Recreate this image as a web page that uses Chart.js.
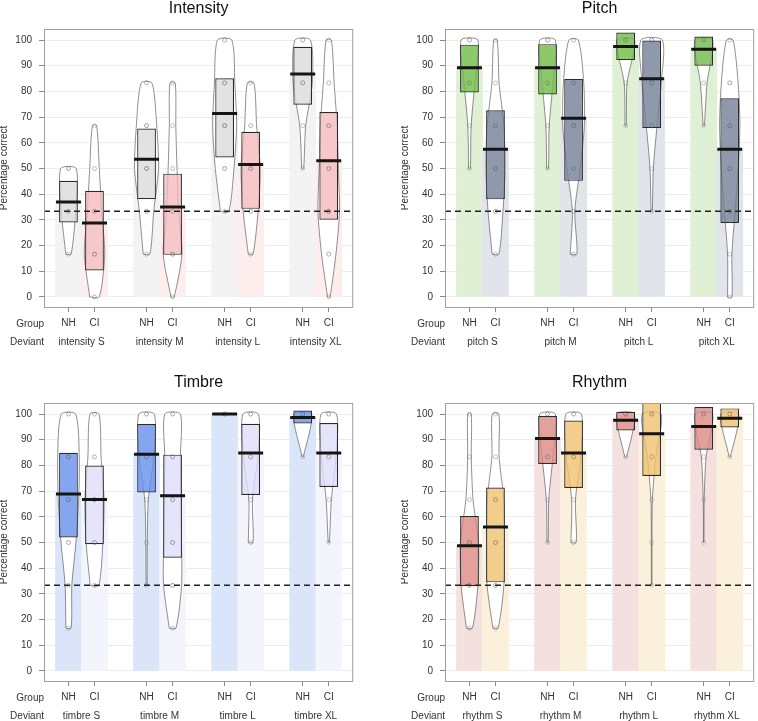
<!DOCTYPE html>
<html>
<head>
<meta charset="utf-8">
<script src="https://cdn.jsdelivr.net/npm/chart.js@4/dist/chart.umd.min.js"></script>
<style>
  html, body { margin: 0; padding: 0; background: #fff; overflow: hidden; }
  canvas { position: absolute; }
</style>
</head>
<body>
<canvas id="intensity" width="358" height="374" style="left:0;top:0"></canvas>
<canvas id="pitch" width="358" height="374" style="left:401px;top:0"></canvas>
<canvas id="timbre" width="358" height="374" style="left:0;top:374px"></canvas>
<canvas id="rhythm" width="358" height="374" style="left:401px;top:374px"></canvas>
<script>
// response levels (6 trials per condition)
const levels = [0, 16.67, 33.33, 50, 66.67, 83.33, 100];
const groupLabels = ['NH', 'CI'];
const deviantSizes = ['S', 'M', 'L', 'XL'];
const yTicks = [0, 10, 20, 30, 40, 50, 60, 70, 80, 90, 100];
const chanceLevel = 33.33;

// every array below is ordered: NH S, CI S, NH M, CI M, NH L, CI L, NH XL, CI XL
const intensityMean = [37.0, 28.8, 53.6, 35.0, 71.4, 51.6, 86.8, 53.0];
const intensityLow = [29.0, 10.3, 38.1, 16.4, 54.3, 34.3, 74.8, 30.1];
const intensityHigh = [45.2, 41.3, 65.6, 48.0, 85.1, 64.3, 97.4, 72.0];
// relative bean density at each level (null = outside the data range)
const intensityDensity = [
  [null, 0.22, 0.6, 0.65, null, null, null],
  [0.4, 0.85, 0.6, 0.4, 0.18, null, null],
  [null, 0.28, 0.6, 1.0, 0.85, 0.45, null],
  [0.13, 0.78, 0.5, 0.37, 0.27, 0.22, null],
  [null, null, 0.35, 0.78, 1.0, 0.85, 0.6],
  [null, 0.2, 0.62, 0.8, 0.5, 0.28, null],
  [null, null, null, 0.08, 0.25, 0.8, 0.65],
  [0.1, 0.6, 0.9, 0.8, 0.7, 0.45, 0.22]
];

const pitchMean = [89.2, 57.5, 89.2, 69.6, 97.5, 84.9, 96.4, 57.5];
const pitchLow = [79.6, 38.0, 78.8, 45.2, 92.2, 65.8, 90.0, 28.8];
const pitchHigh = [98.2, 72.7, 98.4, 84.8, 102.9, 99.8, 101.4, 77.3];
const pitchDensity = [
  [null, null, null, 0.07, 0.14, 0.45, 0.7],
  [null, 0.28, 0.62, 0.8, 0.7, 0.3, 0.15],
  [null, null, null, 0.07, 0.14, 0.45, 0.65],
  [null, 0.28, 0.1, 0.55, 0.9, 0.85, 0.4],
  [null, null, null, null, 0.05, 0.12, 0.75],
  [null, null, 0.05, 0.14, 0.45, 0.8, 0.9],
  [null, null, null, null, 0.05, 0.28, 0.75],
  [0.18, 0.18, 0.45, 0.7, 0.85, 0.7, 0.28]
];

const timbreMean = [68.9, 66.7, 84.4, 68.2, 100, 84.8, 98.7, 84.8];
const timbreLow = [52.0, 49.3, 69.5, 44.1, 100, 68.5, 96.3, 71.6];
const timbreHigh = [84.9, 80.0, 96.1, 84.2, 100, 96.2, 101.4, 96.5];
const timbreDensity = [
  [null, 0.22, 0.28, 0.62, 0.85, 0.9, 0.6],
  [null, null, 0.36, 0.7, 0.8, 0.55, 0.38],
  [null, null, 0.04, 0.06, 0.15, 0.6, 0.65],
  [null, 0.28, 0.75, 0.75, 0.7, 0.65, 0.65],
  [null, null, null, null, null, null, 0.9],
  [null, null, null, 0.2, 0.15, 0.6, 0.65],
  [null, null, null, null, null, 0.05, 0.75],
  [null, null, null, 0.05, 0.22, 0.6, 0.65]
];

const rhythmMean = [48.7, 56.0, 90.5, 84.8, 97.6, 92.3, 95.2, 98.4];
const rhythmLow = [33.0, 34.5, 80.6, 71.2, 93.6, 75.9, 86.1, 94.8];
const rhythmHigh = [60.3, 71.4, 99.2, 97.5, 100.9, 104.5, 102.7, 102.2];
const rhythmDensity = [
  [null, 0.25, 0.7, 0.75, 0.3, 0.15, 0.15],
  [null, 0.22, 0.7, 0.75, 0.7, 0.3, 0.28],
  [null, null, null, 0.05, 0.1, 0.45, 0.65],
  [null, null, null, 0.22, 0.16, 0.6, 0.65],
  [null, null, null, null, null, 0.08, 0.75],
  [null, null, 0.02, 0.03, 0.06, 0.35, 0.8],
  [null, null, null, 0.02, 0.04, 0.2, 0.75],
  [null, null, null, null, null, 0.05, 0.75]
];

// colours: [NH, CI]
const palettes = {
  intensity: { bar: ['#f3f3f3', '#fdeded'], box: ['rgba(219,219,219,0.8)', 'rgba(244,186,188,0.8)'] },
  pitch: { bar: ['#dff0d5', '#e1e4ea'], box: ['rgba(113,188,70,0.8)', 'rgba(114,129,150,0.8)'] },
  timbre: { bar: ['#dbe5f9', '#f4f4fd'], box: ['rgba(101,144,234,0.8)', 'rgba(224,221,250,0.8)'] },
  rhythm: { bar: ['#f5e0e0', '#fbf0dc'], box: ['rgba(221,136,130,0.8)', 'rgba(239,193,110,0.8)'] }
};

Chart.defaults.font.family = '"Liberation Sans", Arial, sans-serif';
Chart.defaults.font.size = 10;
Chart.defaults.color = '#333';

const X_MIN = 0.06, X_MAX = 11.94;
const BEAN_HALF = 0.46;
const MEAN_HALF = 0.48;

// x position of bean i: pairs at 1,2 / 4,5 / 7,8 / 10,11
const pos = i => Math.floor(i / 2) * 3 + 1 + (i % 2);

const pirateFrame = {
  id: 'pirateFrame',
  afterDraw(chart, args, opts) {
    const { ctx, chartArea: a, scales } = chart;
    ctx.save();
    ctx.strokeStyle = '#a0a0a0';
    ctx.lineWidth = 1;
    ctx.strokeRect(a.left + 0.5, a.top + 0.5, a.right - a.left - 1, a.bottom - a.top);
    ctx.fillStyle = '#111';
    ctx.font = '16px "Liberation Sans", Arial, sans-serif';
    ctx.textAlign = 'center';
    ctx.textBaseline = 'alphabetic';
    ctx.fillText(opts.title, (a.left + a.right) / 2, a.top - 16);
    ctx.fillStyle = '#333';
    ctx.font = '10px "Liberation Sans", Arial, sans-serif';
    ctx.textBaseline = 'middle';
    ctx.textAlign = 'right';
    ctx.fillText('Group', a.left, a.bottom + 17);
    ctx.fillText('Deviant', a.left, a.bottom + 35);
    ctx.textAlign = 'center';
    deviantSizes.forEach((s, k) => {
      const xm = scales.x.getPixelForValue((pos(2 * k) + pos(2 * k + 1)) / 2);
      ctx.fillText(opts.deviant + ' ' + s, xm, a.bottom + 35);
    });
    ctx.restore();
  }
};

function makePirate(id, title, deviant, mean, low, high, density, pal) {
  const datasets = [];

  datasets.push({
    type: 'bar',
    data: mean.map((m, i) => ({ x: pos(i), y: m })),
    backgroundColor: mean.map((m, i) => pal.bar[i % 2]),
    borderWidth: 0,
    grouped: false,
    barPercentage: 1,
    categoryPercentage: 1,
    order: 6
  });

  density.forEach((d, i) => {
    const c = pos(i);
    const left = [], right = [];
    d.forEach((v, k) => {
      if (v === null) return;
      left.push({ x: c - v * BEAN_HALF, y: levels[k] });
      right.unshift({ x: c + v * BEAN_HALF, y: levels[k] });
    });
    const shape = left.concat(right, [left[0]]);
    datasets.push({
      type: 'line',
      data: shape,
      fill: 'shape',
      backgroundColor: '#ffffff',
      borderColor: 'rgba(70,70,70,0.75)',
      borderWidth: 0.8,
      pointRadius: 0,
      tension: 0.25,
      order: 5
    });
  });

  datasets.push({
    type: 'bar',
    data: mean.map((m, i) => ({ x: pos(i), y: [low[i], high[i]] })),
    backgroundColor: mean.map((m, i) => pal.box[i % 2]),
    borderColor: '#2a2a2a',
    borderWidth: 1.2,
    borderSkipped: false,
    grouped: false,
    barPercentage: 0.72,
    categoryPercentage: 1,
    order: 4
  });

  const pts = [], ptColors = [];
  density.forEach((d, i) => {
    d.forEach((v, k) => {
      if (v === null) return;
      pts.push({ x: pos(i), y: levels[k] });
      ptColors.push('rgba(90,90,90,' + (0.3 + 0.5 * v).toFixed(2) + ')');
    });
  });
  datasets.push({
    type: 'scatter',
    data: pts,
    pointRadius: 2,
    pointBorderWidth: 0.8,
    pointBorderColor: ptColors,
    pointBackgroundColor: 'rgba(0,0,0,0)',
    order: 3
  });

  const meanPts = [];
  mean.forEach((m, i) => {
    meanPts.push({ x: pos(i) - MEAN_HALF, y: m }, { x: pos(i) + MEAN_HALF, y: m }, { x: pos(i), y: null });
  });
  datasets.push({
    type: 'line',
    data: meanPts,
    borderColor: '#151515',
    borderWidth: 3,
    pointRadius: 0,
    spanGaps: false,
    fill: false,
    order: 2
  });

  datasets.push({
    type: 'line',
    data: [{ x: X_MIN, y: chanceLevel }, { x: X_MAX, y: chanceLevel }],
    borderColor: '#222',
    borderWidth: 1.5,
    borderDash: [6, 4],
    pointRadius: 0,
    fill: false,
    order: 1
  });

  return new Chart(document.getElementById(id), {
    type: 'scatter',
    data: { datasets },
    plugins: [pirateFrame],
    options: {
      responsive: false,
      animation: false,
      events: [],
      layout: { padding: { top: 29, right: 2, left: 0, bottom: 0 } },
      plugins: {
        legend: { display: false },
        tooltip: { enabled: false },
        pirateFrame: { title, deviant }
      },
      scales: {
        x: {
          type: 'linear',
          min: X_MIN,
          max: X_MAX,
          offset: false,
          afterBuildTicks: s => { s.ticks = mean.map((m, i) => ({ value: pos(i) })); },
          afterFit: s => { s.height = 67; },
          grid: { drawOnChartArea: false, drawTicks: true, tickLength: 5, tickColor: '#888', offset: false },
          border: { display: false },
          ticks: {
            autoSkip: false,
            maxRotation: 0,
            padding: 5,
            color: '#333',
            callback: (v, idx) => groupLabels[idx % 2]
          }
        },
        y: {
          type: 'linear',
          min: -3.9,
          max: 104.3,
          afterBuildTicks: s => { s.ticks = yTicks.map(v => ({ value: v })); },
          afterFit: s => { s.width = 44; },
          grid: { color: '#ececec', lineWidth: 1, tickLength: 5, tickColor: '#888' },
          border: { display: false },
          ticks: { padding: 7, color: '#333' },
          title: {
            display: true,
            text: 'Percentage correct',
            font: { size: 10, lineHeight: 0.8 },
            padding: 0,
            color: '#333'
          }
        }
      }
    }
  });
}

makePirate('intensity', 'Intensity', 'intensity', intensityMean, intensityLow, intensityHigh, intensityDensity, palettes.intensity);
makePirate('pitch', 'Pitch', 'pitch', pitchMean, pitchLow, pitchHigh, pitchDensity, palettes.pitch);
makePirate('timbre', 'Timbre', 'timbre', timbreMean, timbreLow, timbreHigh, timbreDensity, palettes.timbre);
makePirate('rhythm', 'Rhythm', 'rhythm', rhythmMean, rhythmLow, rhythmHigh, rhythmDensity, palettes.rhythm);
</script>
</body>
</html>
